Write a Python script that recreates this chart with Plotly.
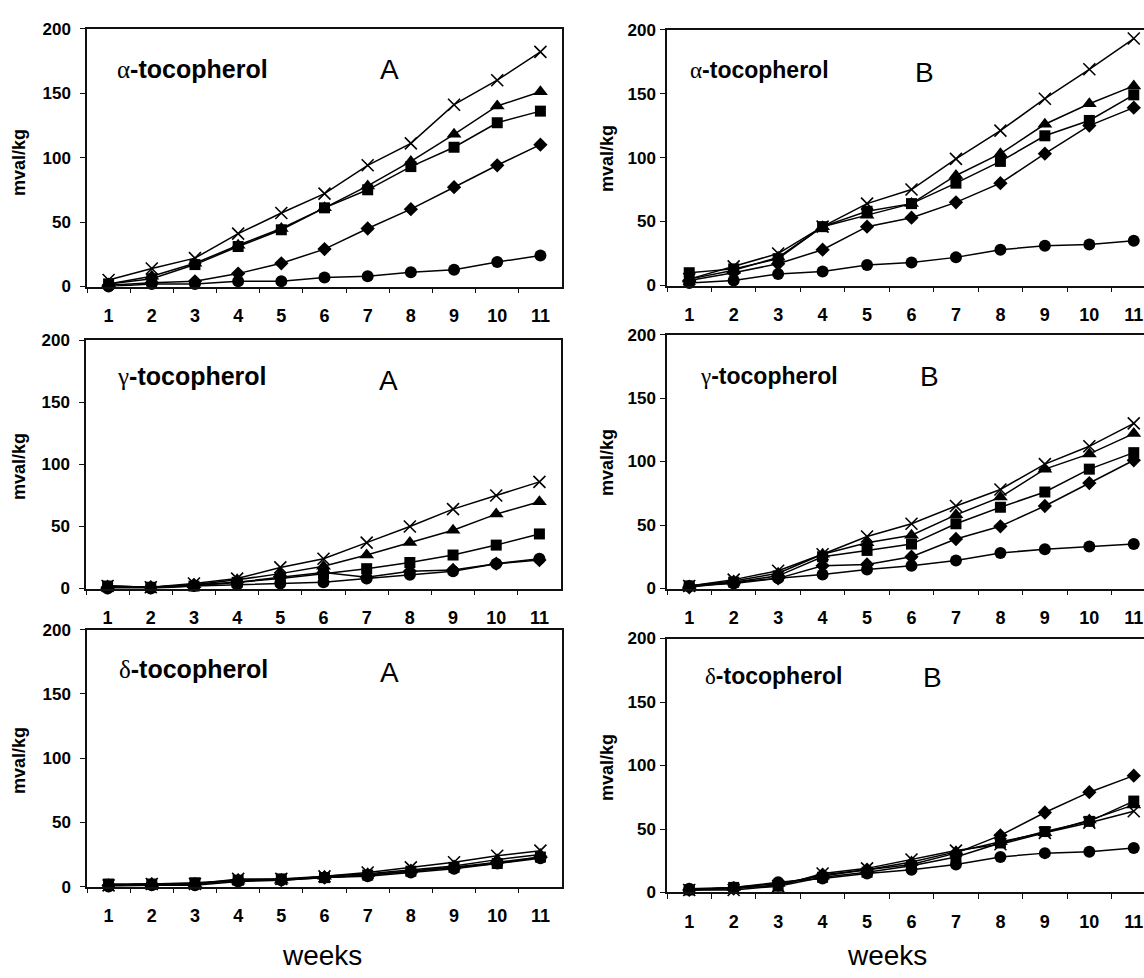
import plotly.graph_objects as go

W, H = 1144, 978
weeks = list(range(1, 12))
week_labels = [str(w) for w in weeks]
y_ticks = [0, 50, 100, 150, 200]

# ---- data (mval/kg) ----
# Panel A, alpha-tocopherol
a_alpha_cross = [5, 14, 22, 41, 57, 72, 94, 111, 141, 160, 182]
a_alpha_tri = [2, 8, 18, 32, 45, 61, 78, 97, 118, 140, 151]
a_alpha_sq = [2, 6, 17, 31, 44, 61, 75, 93, 108, 127, 136]
a_alpha_dia = [1, 3, 4, 10, 18, 29, 45, 60, 77, 94, 110]
a_alpha_circ = [0, 2, 2, 4, 4, 7, 8, 11, 13, 19, 24]
# Panel B, alpha-tocopherol
b_alpha_cross = [5, 15, 25, 46, 64, 75, 99, 121, 146, 169, 193]
b_alpha_tri = [5, 12, 22, 46, 55, 64, 86, 103, 126, 142, 156]
b_alpha_sq = [10, 13, 21, 46, 58, 64, 80, 97, 117, 129, 149]
b_alpha_dia = [4, 10, 17, 28, 46, 53, 65, 80, 103, 125, 139]
b_alpha_circ = [2, 4, 9, 11, 16, 18, 22, 28, 31, 32, 35]
# Panel A, gamma-tocopherol
a_gamma_cross = [2, 1, 4, 8, 17, 24, 37, 50, 64, 75, 86]
a_gamma_tri = [2, 1, 3, 7, 12, 18, 27, 37, 47, 60, 70]
a_gamma_sq = [2, 1, 2, 5, 8, 12, 16, 21, 27, 35, 44]
a_gamma_dia = [1, 1, 3, 5, 9, 13, 9, 14, 15, 20, 23]
a_gamma_circ = [0, 0, 2, 3, 4, 5, 8, 11, 14, 20, 24]
# Panel B, gamma-tocopherol
b_gamma_cross = [2, 7, 14, 27, 41, 51, 65, 78, 98, 112, 130]
b_gamma_tri = [2, 6, 12, 27, 36, 42, 58, 72, 94, 106, 122]
b_gamma_sq = [2, 5, 10, 25, 30, 35, 51, 64, 76, 94, 107]
b_gamma_dia = [1, 5, 8, 18, 19, 25, 39, 49, 65, 83, 101]
b_gamma_circ = [2, 4, 8, 11, 15, 18, 22, 28, 31, 33, 35]
# Panel A, delta-tocopherol
a_delta_cross = [1, 2, 2, 6, 6, 8, 11, 15, 19, 24, 28]
a_delta_tri = [1, 2, 2, 5, 5, 8, 10, 13, 16, 21, 25]
a_delta_sq = [2, 2, 3, 5, 6, 7, 9, 12, 15, 18, 23]
a_delta_dia = [1, 2, 2, 5, 5, 7, 9, 12, 15, 19, 23]
a_delta_circ = [0, 1, 1, 4, 5, 7, 8, 11, 14, 18, 22]
# Panel B, delta-tocopherol
b_delta_cross = [2, 2, 5, 15, 19, 26, 33, 38, 47, 55, 64]
b_delta_tri = [2, 4, 7, 13, 18, 24, 32, 40, 47, 57, 69]
b_delta_sq = [2, 4, 5, 12, 16, 21, 28, 39, 48, 56, 72]
b_delta_dia = [2, 3, 6, 14, 18, 22, 31, 45, 63, 79, 92]
b_delta_circ = [3, 4, 8, 11, 15, 18, 22, 28, 31, 32, 35]

panels = [
    ("A", "α", [a_alpha_cross, a_alpha_tri, a_alpha_sq, a_alpha_dia, a_alpha_circ]),
    ("B", "α", [b_alpha_cross, b_alpha_tri, b_alpha_sq, b_alpha_dia, b_alpha_circ]),
    ("A", "γ", [a_gamma_cross, a_gamma_tri, a_gamma_sq, a_gamma_dia, a_gamma_circ]),
    ("B", "γ", [b_gamma_cross, b_gamma_tri, b_gamma_sq, b_gamma_dia, b_gamma_circ]),
    ("A", "δ", [a_delta_cross, a_delta_tri, a_delta_sq, a_delta_dia, a_delta_circ]),
    ("B", "δ", [b_delta_cross, b_delta_tri, b_delta_sq, b_delta_dia, b_delta_circ]),
]

symbols = ["x-thin", "triangle-up", "square", "diamond", "circle"]
sizes = [12, 13, 11, 11, 12]

# plot-area geometry in pixels: (left, right, top, bottom)
geom = [
    (87, 562, 20, 283),
    (667, 1144, 21, 282),
    (86, 561, 338, 591),
    (667, 1144, 332, 591),
    (87, 562, 633, 895),
    (667, 1144, 642, 901),
]
# text placement in pixels
name_pos = [(115, 61), (688, 62), (115, 374), (698, 374), (117, 673), (703, 680)]
letter_pos = [(389, 62), (924, 65), (388, 379), (929, 375), (389, 677), (932, 682)]
ylab_pos = [(19, 157), (607, 153), (19, 467), (607, 463), (19, 767), (607, 774)]

BLK = "#000000"
FONT = "Liberation Sans"

fig = go.Figure()
layout = {}
annotations = []

for i, ((grp, greek, series), (l, r, t, b)) in enumerate(zip(panels, geom)):
    n = i + 1
    xa = "x" if n == 1 else f"x{n}"
    ya = "y" if n == 1 else f"y{n}"
    for s, sym, sz in zip(series, symbols, sizes):
        mk = dict(symbol=sym, size=sz, color=BLK)
        if sym == "x-thin":
            mk["line"] = dict(color=BLK, width=1.6)
        fig.add_trace(go.Scatter(
            x=weeks, y=s, xaxis=xa, yaxis=ya, mode="lines+markers",
            line=dict(color=BLK, width=1.5), marker=mk,
            cliponaxis=False, showlegend=False))
    is_b = grp == "B"
    span = 11.0 if not is_b else 11.0 * (r - l) / 489.0
    xr = [0.5, 0.5 + span]
    layout["xaxis" if n == 1 else f"xaxis{n}"] = dict(
        domain=[l / W, r / W], anchor=ya, range=xr,
        tickmode="array", tickvals=weeks, ticktext=week_labels,
        ticks="", showgrid=False, zeroline=False,
        showline=True, linecolor="#111", linewidth=1.5, mirror=True,
        tickfont=dict(family=FONT, size=18, color=BLK, weight="bold"),
        ticklabelstandoff=12,
        minor=dict(tickmode="array", tickvals=[k + 0.5 for k in range(0, 11)],
                   ticks="outside", ticklen=5, tickcolor="#111", tickwidth=1,
                   showgrid=False),
    )
    layout["yaxis" if n == 1 else f"yaxis{n}"] = dict(
        domain=[1 - b / H, 1 - t / H], anchor=xa, range=[0, 200],
        tickmode="array", tickvals=y_ticks,
        ticks="outside", ticklen=5, tickcolor="#111", tickwidth=1,
        showgrid=False, zeroline=False,
        showline=True, linecolor="#111", linewidth=1.5, mirror=not is_b,
        tickfont=dict(family=FONT, size=17, color=BLK, weight="bold"),
        ticklabelstandoff=(6 if not is_b else 1),
    )
    # y-axis title
    yx, yy = ylab_pos[i]
    annotations.append(dict(
        text="<b>mval/kg</b>", textangle=-90, xref="paper", yref="paper",
        x=yx / W, y=1 - yy / H,
        xanchor="center", yanchor="middle", showarrow=False,
        font=dict(family=FONT, size=18, color=BLK)))
    # panel name
    nx, ny = name_pos[i]
    annotations.append(dict(
        text=f'<span style="font-family:Liberation Serif;font-weight:normal">{greek}</span><b>-tocopherol</b>',
        xref="paper", yref="paper", x=nx / W, y=1 - ny / H,
        xanchor="left", yanchor="middle", showarrow=False,
        font=dict(family=FONT, size=(25 if not is_b else 23), color=BLK)))
    # group letter
    lx, ly = letter_pos[i]
    annotations.append(dict(
        text=grp, xref="paper", yref="paper", x=lx / W, y=1 - ly / H,
        xanchor="center", yanchor="middle", showarrow=False,
        font=dict(family=FONT, size=28, color=BLK)))

for cx in (322, 887):
    annotations.append(dict(
        text="weeks", xref="paper", yref="paper", x=cx / W, y=1 - 965 / H,
        xanchor="center", yanchor="middle", showarrow=False,
        font=dict(family=FONT, size=28, color=BLK)))

fig.update_layout(
    width=W, height=H, margin=dict(l=0, r=0, t=0, b=0),
    paper_bgcolor="white", plot_bgcolor="white",
    annotations=annotations, **layout)

fig.write_html("out.html")
